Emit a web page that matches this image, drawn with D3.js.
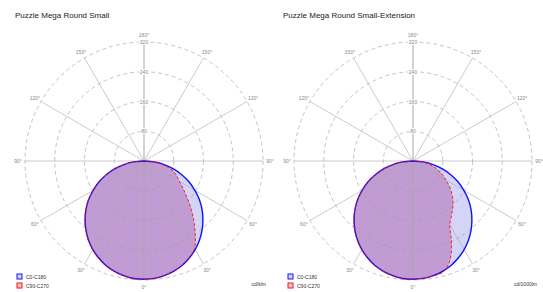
<!DOCTYPE html>
<html lang="en">
<head>
    <meta charset="utf-8">
    <script type="text/javascript" src="https://d3js.org/d3.v7.min.js"></script>
    <title>Puzzle Mega Round Small - polar curves</title>
    <style>
        html, body { margin: 0; padding: 0; background: white; }
        svg { display: block; font-family: Arial, "Liberation Sans", sans-serif; }
    </style>
</head>
<body>
<div id="chart"></div>
<script type="text/javascript">

    // gamma angles (degrees from nadir) used by all curves
    const gammas = [0, 5, 10, 15, 20, 25, 30, 35, 40, 45, 50, 55, 60, 65, 70, 75, 80, 85, 90];

    // Puzzle Mega Round Small (cd/klm)
    const small_C0_C180  = [318, 317, 313, 307, 299, 288, 275, 260, 243, 224, 204, 182, 158, 134, 108, 82, 55, 28, 0];
    const small_C90      = [318, 317, 313, 306, 298, 287, 272, 240, 208, 178, 150, 128, 110, 98, 86, 68, 46, 22, 0];
    const small_C270     = [319, 318, 314, 308, 300, 289, 276, 261, 244, 225, 204, 182, 158, 133, 107, 81, 54, 27, 0];

    // Puzzle Mega Round Small-Extension (cd/klm)
    const ext_C0_C180    = [318, 317, 313, 307, 299, 288, 275, 260, 243, 224, 204, 182, 158, 134, 108, 82, 55, 28, 0];
    const ext_C90        = [318, 316, 314, 310, 288, 245, 198, 180, 166, 152, 136, 120, 102, 88, 72, 56, 38, 19, 0];
    const ext_C270       = [319, 318, 314, 308, 300, 289, 276, 261, 244, 225, 204, 182, 158, 133, 107, 81, 54, 27, 0];

    const ringValues = [80, 160, 240, 320];
    const spokeAngles = [0, 30, 60, 90, 120, 150, 180];

    const charts = [
        {title: "Puzzle Mega Round Small", unit: "cd/klm", cx: 144, c0: small_C0_C180, c90: small_C90, c270: small_C270},
        {title: "Puzzle Mega Round Small-Extension", unit: "cd/1000lm", cx: 413, c0: ext_C0_C180, c90: ext_C90, c270: ext_C270}
    ];

    const W = 543, H = 292, cy = 161;

    const svg = d3.select("#chart").append("svg")
        .attr("width", W)
        .attr("height", H);

    // radius scale
    const r = d3.scaleLinear().domain([0, 320]).range([0, 119]);
    const rad = d => d * Math.PI / 180;

    // build closed polygon: right half (gamma 90 -> 0), then left half (0 -> 90)
    function polygon(rightVals, leftVals) {
        const pts = [];
        for (let i = gammas.length - 1; i >= 0; i--) pts.push([Math.PI - rad(gammas[i]), r(rightVals[i])]);
        for (let i = 1; i < gammas.length; i++) pts.push([Math.PI + rad(gammas[i]), r(leftVals[i])]);
        return pts;
    }

    const radial = d3.lineRadial()
        .angle(d => d[0])
        .radius(d => d[1])
        .curve(d3.curveCatmullRomClosed);

    charts.forEach((c, k) => {
        const x0 = k === 0 ? 0 : 271;

        // title
        svg.append("text")
            .attr("x", x0 + (k === 0 ? 15 : 12))
            .attr("y", 18)
            .style("font-size", "8px")
            .style("fill", "#222")
            .text(c.title);

        const g = svg.append("g").attr("transform", `translate(${c.cx},${cy})`);

        // curves first (grid is drawn on top, like the reference)
        g.append("path")
            .attr("d", radial(polygon(c.c0, c.c0)))
            .attr("fill", "#d4d4f6")
            .attr("stroke", "none");
        g.append("path")
            .attr("d", radial(polygon(c.c90, c.c270)))
            .attr("fill", "#c19cd3")
            .attr("stroke", "none");

        // grid rings
        g.selectAll(".ring").data(ringValues).join("circle")
            .attr("r", d => r(d))
            .attr("fill", "none")
            .attr("stroke", "#9c9c9c")
            .attr("stroke-width", 0.6)
            .attr("stroke-dasharray", "4,3");

        // spokes on both sides
        spokeAngles.forEach(a => {
            [1, -1].forEach(s => {
                const t = rad(a);
                g.append("line")
                    .attr("x1", 0).attr("y1", 0)
                    .attr("x2", s * Math.sin(t) * r(320))
                    .attr("y2", Math.cos(t) * r(320))
                    .attr("stroke", "#a8a8a8")
                    .attr("stroke-width", 0.6);
            });
        });

        // curve outlines
        g.append("path")
            .attr("d", radial(polygon(c.c0, c.c0)))
            .attr("fill", "none")
            .attr("stroke", "#1010ff")
            .attr("stroke-width", 1.4);
        g.append("path")
            .attr("d", radial(polygon(c.c90, c.c270)))
            .attr("fill", "none")
            .attr("stroke", "#ff1010")
            .attr("stroke-width", 0.9)
            .attr("stroke-dasharray", "3,2");

        // angle labels
        spokeAngles.forEach(a => {
            const sides = (a === 0 || a === 180) ? [1] : [1, -1];
            sides.forEach(s => {
                const t = rad(a);
                g.append("text")
                    .attr("x", s * Math.sin(t) * 126)
                    .attr("y", Math.cos(t) * 126 + 2)
                    .attr("text-anchor", "middle")
                    .style("font-size", "5px")
                    .style("fill", "#888")
                    .text(a + "°");
            });
        });

        // ring labels along the upper axis
        ringValues.forEach(v => {
            g.append("text")
                .attr("x", 0)
                .attr("y", -r(v) + 2)
                .attr("text-anchor", "middle")
                .style("font-size", "5px")
                .style("fill", "#888")
                .style("paint-order", "stroke")
                .style("stroke", "white")
                .style("stroke-width", "2px")
                .text(v);
        });

        // legend
        const legend = [
            {label: "C0-C180", stroke: "#1010ff", fill: "#d4d4f6"},
            {label: "C90-C270", stroke: "#ff1010", fill: "#f5c8c8"}
        ];
        legend.forEach((l, i) => {
            const ly = 274 + i * 9;
            svg.append("rect")
                .attr("x", x0 + 17).attr("y", ly)
                .attr("width", 5).attr("height", 5)
                .attr("fill", l.fill)
                .attr("stroke", l.stroke)
                .attr("stroke-width", 1);
            svg.append("text")
                .attr("x", x0 + 26).attr("y", ly + 4.5)
                .style("font-size", "5px")
                .style("fill", "#333")
                .text(l.label);
        });

        // unit
        svg.append("text")
            .attr("x", x0 + 266)
            .attr("y", 286)
            .attr("text-anchor", "end")
            .style("font-size", "5px")
            .style("fill", "#333")
            .text(c.unit);
    });

</script>
</body>
</html>
